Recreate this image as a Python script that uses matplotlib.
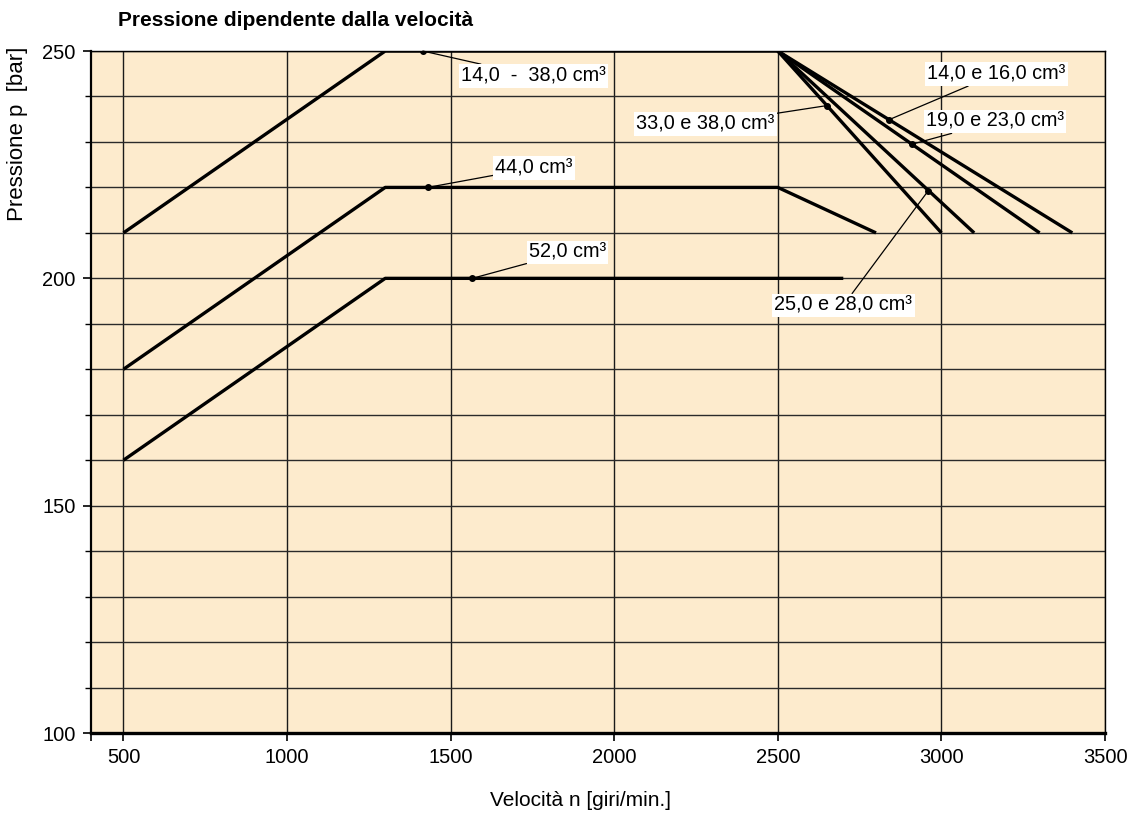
import matplotlib.pyplot as plt
from matplotlib.ticker import MultipleLocator, FixedLocator

plt.rcParams['font.family'] = ['Liberation Sans', 'DejaVu Sans']

# speed [giri/min] and pressure [bar] break points of each curve
speed_main = [500, 1300, 2500]
press_main = [210, 250, 250]

speed_44 = [500, 1300, 2500, 2800]
press_44 = [180, 220, 220, 210]

speed_52 = [500, 1300, 2700]
press_52 = [160, 200, 200]

# falling branches starting at 2500 / 250 bar
branch_start = (2500, 250)
branch_end_speed = [3000, 3100, 3300, 3400]
branch_end_press = [210, 210, 210, 210]

# labels, the point on the curve each refers to, and where the label sits
labels = ["14,0  -  38,0 cm³", "44,0 cm³", "52,0 cm³", "33,0 e 38,0 cm³",
          "14,0 e 16,0 cm³", "19,0 e 23,0 cm³", "25,0 e 28,0 cm³"]
label_pt_x = [1415, 1430, 1566, 2650, 2840, 2910, 2960]
label_pt_y = [250, 220, 200, 238, 234.9, 229.5, 219.3]
label_txt_x = [1753, 1755, 1857, 2279, 3167, 3164, 2700]
label_txt_y = [244.5, 224.3, 205.7, 233.9, 244.9, 234.5, 194.05]

fig = plt.figure(figsize=(11.37, 8.19), dpi=100)
ax = fig.add_axes([0.0798, 0.105, 0.9719 - 0.0798, 0.9377 - 0.105])
ax.set_facecolor('#FDEBCD')

ax.set_xlim(400, 3500)
ax.set_ylim(100, 250)
ax.xaxis.set_major_locator(FixedLocator([500, 1000, 1500, 2000, 2500, 3000, 3500]))
ax.xaxis.set_minor_locator(FixedLocator([400]))
ax.yaxis.set_major_locator(MultipleLocator(50))
ax.yaxis.set_minor_locator(MultipleLocator(10))

ax.grid(True, which='major', axis='x', color='#1a1a1a', lw=1.0, zorder=1)
ax.grid(True, which='both', axis='y', color='#2a2a2a', lw=1.0, zorder=1)
ax.set_axisbelow(True)

ax.tick_params(axis='both', which='major', direction='out', length=6, width=1.2,
               labelsize=14.5, color='black', pad=5)
ax.tick_params(axis='y', which='minor', direction='out', length=4, width=1.0)
ax.tick_params(axis='x', which='minor', direction='out', length=6, width=1.2)

ax.spines['left'].set_linewidth(1.6)
ax.spines['bottom'].set_linewidth(2.4)
ax.spines['top'].set_linewidth(1.0)
ax.spines['right'].set_linewidth(1.0)

lw = 2.4
ax.plot(speed_main, press_main, color='black', lw=lw, solid_capstyle='butt', zorder=3)
ax.plot(speed_44, press_44, color='black', lw=lw, solid_capstyle='butt', zorder=3)
ax.plot(speed_52, press_52, color='black', lw=lw, solid_capstyle='butt', zorder=3)
for xe, ye in zip(branch_end_speed, branch_end_press):
    ax.plot([branch_start[0], xe], [branch_start[1], ye], color='black', lw=lw,
            solid_capstyle='butt', zorder=3)

for txt, px, py, tx, ty in zip(labels, label_pt_x, label_pt_y, label_txt_x, label_txt_y):
    ax.plot(px, py, 'o', color='black', ms=4, zorder=5)
    ax.annotate(txt, xy=(px, py), xytext=(tx, ty), ha='center', va='center',
                fontsize=14.3, zorder=6,
                bbox=dict(boxstyle='square,pad=0.12', fc='white', ec='none'),
                arrowprops=dict(arrowstyle='-', lw=0.9, color='black',
                                shrinkA=0, shrinkB=0))

fig.text(118 / 1137, 1 - 21 / 819, 'Pressione dipendente dalla velocità',
         fontsize=15, fontweight='bold', ha='left', va='center')
fig.text(17.5 / 1137, 1 - 134 / 819, 'Pressione p  [bar]', rotation=90,
         fontsize=16, ha='center', va='center')
fig.text(581 / 1137, 1 - 800 / 819, 'Velocità n [giri/min.]',
         fontsize=15, ha='center', va='center')

fig.savefig('out.png', dpi=100, facecolor='white')
